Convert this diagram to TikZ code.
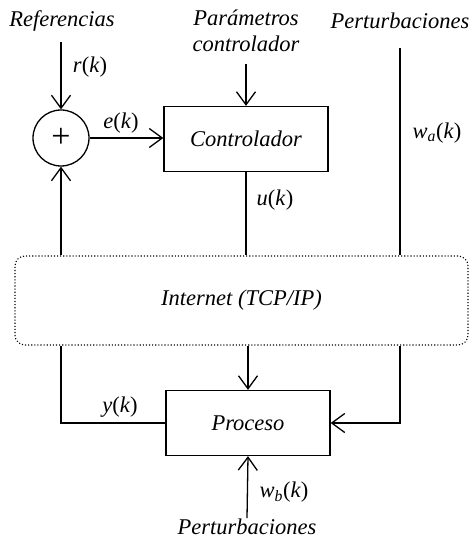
\documentclass[tikz,border=0pt]{standalone}
\usepackage{fontspec}
\setmainfont{Liberation Serif}
\usetikzlibrary{arrows.meta,calc}
\begin{document}
\begin{tikzpicture}[x=1pt,y=-1pt,
  every node/.style={font=\fontsize{22.5}{26}\selectfont\itshape, inner sep=0pt},
  line/.style={line width=1.3pt},
  arr/.style={line width=1.3pt,-{Straight Barb[length=13pt,width=19pt,line width=1.3pt]}},
  blockbox/.style={draw, line width=1.3pt, minimum width=164pt, minimum height=65pt},
  lbl/.style={font=\fontsize{22.5}{26}\selectfont\upshape}
]
\useasboundingbox (0,0) rectangle (471,545);
% blocks
\node[draw, circle, line width=1.3pt, minimum size=56pt, font=\fontsize{34}{36}\selectfont\upshape] (sum) at (61,138) {};
\node[font=\fontsize{34}{36}\selectfont\upshape] (plus) at (sum.center) {+};
\node[blockbox] (ctrl) at (246,139) {Controlador};
\node[blockbox] (proc) at (248,423) {Proceso};
\node[draw, dotted, line width=1.1pt, rounded corners=10pt, minimum width=453pt, minimum height=89pt] (net) at (241.5,300.5) {Internet (TCP/IP)};
% texts
\node (ref) at (62,21) {Referencias};
\node[align=center] (par) at (246,31) {Parámetros\\controlador};
\node (pert1) at (400,21) {Perturbaciones};
\node (pert2) at (247,527) {Perturbaciones};
\node[lbl] (rk) at (90,67) {\textit{r}(\textit{k})};
\node[lbl] (ek) at (121,123) {\textit{e}(\textit{k})};
\node[lbl] (wak) at (437,133) {\textit{w}\textsubscript{\textit{a}}(\textit{k})};
\node[lbl] (uk) at (275,200) {\textit{u}(\textit{k})};
\node[lbl] (yk) at (120,407) {\textit{y}(\textit{k})};
\node[lbl] (wbk) at (284,492) {\textit{w}\textsubscript{\textit{b}}(\textit{k})};
% free ends
\coordinate (rs) at (61,42);
\coordinate (ps) at (246,64);
\coordinate (ds) at (400,48);
\coordinate (bs) at (247,518);
% connectors
\draw[arr] (rs) -- (sum.north);
\draw[arr] (sum.east) -- (sum.east -| ctrl.west);
\draw[arr] (ps) -- (ctrl.north);
\draw[line] (ctrl.south) -- (ctrl.south |- net.north);
\draw[line] (ds) -- (ds |- net.north);
\draw[arr] (sum.south |- net.north) -- (sum.south);
\draw[line] (sum.south |- net.south) |- (proc.west);
\draw[arr] (proc.north |- net.south) -- (proc.north);
\draw[arr] (ds |- net.south) |- (proc.east);
\draw[arr] (bs) -- (proc.south);
\end{tikzpicture}
\end{document}
